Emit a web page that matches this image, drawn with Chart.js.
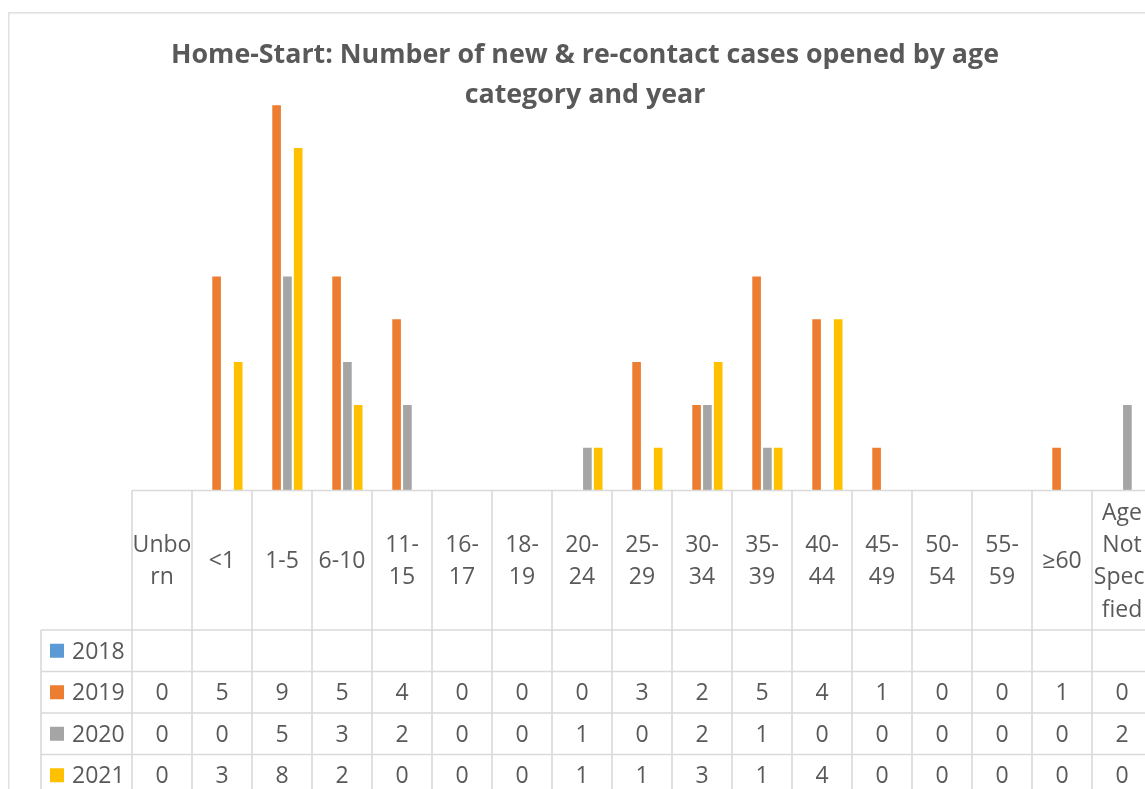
<!DOCTYPE html>
<html>
<head>
<meta charset="utf-8">
<title>Home-Start cases by age category</title>
<script src="https://cdn.jsdelivr.net/npm/chart.js@4.4.0/dist/chart.umd.min.js"></script>
<style>
  html, body { margin: 0; padding: 0; background: #fff; overflow: hidden; }
  #wrap { position: absolute; left: 0; top: 0; width: 1170px; height: 800px; }
</style>
</head>
<body>
<div id="wrap"><canvas id="chart" width="1170" height="800"></canvas></div>
<script>
// Age categories (already wrapped the way they sit in the table header)
const categories = [
  ['Unbo', 'rn'], ['<1'], ['1-5'], ['6-10'], ['11-', '15'], ['16-', '17'],
  ['18-', '19'], ['20-', '24'], ['25-', '29'], ['30-', '34'], ['35-', '39'],
  ['40-', '44'], ['45-', '49'], ['50-', '54'], ['55-', '59'], ['≥60'],
  ['Age', 'Not', 'Speci', 'fied']
];

const years = ['2018', '2019', '2020', '2021'];

// 2018 has no figures recorded
const cases2018 = [null, null, null, null, null, null, null, null, null, null, null, null, null, null, null, null, null];
const cases2019 = [0, 5, 9, 5, 4, 0, 0, 0, 3, 2, 5, 4, 1, 0, 0, 1, 0];
const cases2020 = [0, 0, 5, 3, 2, 0, 0, 1, 0, 2, 1, 0, 0, 0, 0, 0, 2];
const cases2021 = [0, 3, 8, 2, 0, 0, 0, 1, 1, 3, 1, 4, 0, 0, 0, 0, 0];

const yearColors = ['#5b9bd5', '#ed7d31', '#a5a5a5', '#ffc000'];

const titleLines = [
  'Home-Start: Number of new & re-contact cases opened by age',
  'category and year'
];

const lineColor = '#d9d9d9';
const textColor = '#595959';
const fontFamily = '"Open Sans", "DejaVu Sans", sans-serif';

// Border, title and the data table under the bars
const dataTable = {
  id: 'dataTable',
  beforeDraw(chart) {
    const ctx = chart.ctx;
    ctx.save();
    ctx.strokeStyle = lineColor;
    ctx.lineWidth = 1.2;
    ctx.beginPath();
    ctx.moveTo(8.8, chart.height);
    ctx.lineTo(8.8, 12.8);
    ctx.lineTo(chart.width, 12.8);
    ctx.stroke();

    ctx.fillStyle = textColor;
    ctx.font = 'bold 26.8px ' + fontFamily;
    ctx.textAlign = 'center';
    ctx.textBaseline = 'alphabetic';
    titleLines.forEach((t, i) => ctx.fillText(t, 585, 63.3 + i * 39.5));
    ctx.restore();
  },
  afterDraw(chart) {
    const ctx = chart.ctx;
    const x = chart.scales.x;
    const base = chart.scales.y.getPixelForValue(0);
    const colW = x.getPixelForValue(1) - x.getPixelForValue(0);
    const left = x.getPixelForValue(0) - colW / 2;
    const right = chart.width;
    const bottom = chart.height;
    const headerH = 139.5;
    const rowH = 41.5;
    const legendLeft = 41;
    const rowTops = years.map((_, i) => base + headerH + i * rowH);

    ctx.save();
    ctx.strokeStyle = lineColor;
    ctx.lineWidth = 1.6;
    ctx.beginPath();
    ctx.moveTo(left, base);
    ctx.lineTo(right, base);
    rowTops.forEach(t => {
      ctx.moveTo(legendLeft, t);
      ctx.lineTo(right, t);
    });
    for (let i = 0; i <= categories.length; i++) {
      const cx = left + i * colW;
      ctx.moveTo(cx, base);
      ctx.lineTo(cx, bottom);
    }
    ctx.moveTo(legendLeft, rowTops[0]);
    ctx.lineTo(legendLeft, bottom);
    ctx.stroke();

    ctx.fillStyle = textColor;
    ctx.font = '23px ' + fontFamily;
    ctx.textAlign = 'center';
    ctx.textBaseline = 'middle';
    const nudge = 1.5;

    // header: category labels
    const headMid = base + headerH / 2 + nudge;
    const lineH = 32.3;
    categories.forEach((lines, i) => {
      const cx = x.getPixelForValue(i);
      const y0 = headMid - (lines.length - 1) * lineH / 2;
      lines.forEach((s, j) => ctx.fillText(s, cx, y0 + j * lineH));
    });

    // rows: legend key + values
    chart.data.datasets.forEach((ds, r) => {
      const cy = rowTops[r] + rowH / 2;
      ctx.fillStyle = ds.backgroundColor;
      ctx.fillRect(50, cy - 7, 14, 14);
      ctx.fillStyle = textColor;
      ctx.textAlign = 'left';
      ctx.fillText(ds.label, 72, cy + nudge);
      ctx.textAlign = 'center';
      ds.data.forEach((v, i) => {
        if (v !== null) ctx.fillText(String(v), x.getPixelForValue(i), cy + nudge);
      });
    });
    ctx.restore();
  }
};

const seriesData = [cases2018, cases2019, cases2020, cases2021];

new Chart(document.getElementById('chart'), {
  type: 'bar',
  data: {
    labels: categories,
    datasets: years.map((y, i) => ({
      label: y,
      data: seriesData[i],
      backgroundColor: yearColors[i],
      borderWidth: 0
    }))
  },
  options: {
    responsive: false,
    animation: false,
    layout: { padding: { left: 132, right: 18, top: 62.5, bottom: 309.5 } },
    datasets: { bar: { categoryPercentage: 0.72, barPercentage: 0.8 } },
    plugins: {
      legend: { display: false },
      tooltip: { enabled: false },
      title: { display: false }
    },
    scales: {
      x: { display: false },
      y: { display: false, min: 0, max: 10 }
    }
  },
  plugins: [dataTable]
});
</script>
</body>
</html>
